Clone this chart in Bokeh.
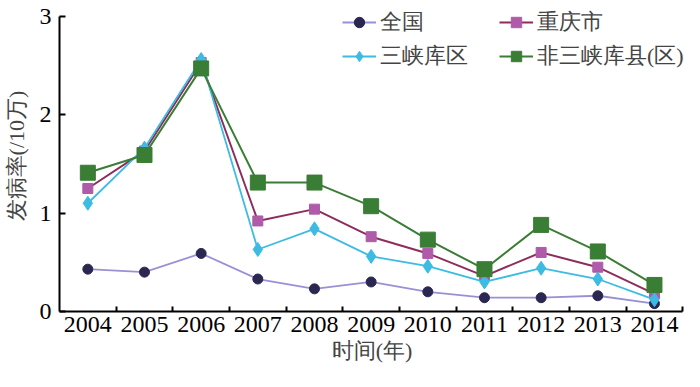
from bokeh.plotting import figure
from bokeh.models import Legend, LegendItem, FixedTicker, Range1d
from bokeh.embed import file_html
from bokeh.resources import INLINE

years = [2004, 2005, 2006, 2007, 2008, 2009, 2010, 2011, 2012, 2013, 2014]
national = [0.43, 0.40, 0.59, 0.33, 0.23, 0.30, 0.20, 0.14, 0.14, 0.16, 0.08]
chongqing = [1.25, 1.63, 2.53, 0.92, 1.04, 0.76, 0.59, 0.36, 0.60, 0.45, 0.18]
three_gorges = [1.10, 1.66, 2.56, 0.63, 0.84, 0.56, 0.46, 0.30, 0.44, 0.33, 0.12]
non_three_gorges = [1.41, 1.59, 2.47, 1.31, 1.31, 1.07, 0.73, 0.43, 0.88, 0.61, 0.27]
series_names = ["全国", "重庆市", "三峡库区", "非三峡库县(区)"]
y_ticks = [0, 1, 2, 3]

FONT = "Liberation Serif"

p = figure(width=684, height=371, output_backend="svg", toolbar_location=None,
           x_range=Range1d(2003.5, 2014.53), y_range=Range1d(0, 3.16),
           min_border_left=52, min_border_right=0, min_border_top=0, min_border_bottom=60)
p.outline_line_color = None
p.xgrid.visible = False
p.ygrid.visible = False
p.background_fill_color = "white"

# x axis
p.xaxis.bounds = (2003.5, 2014.5)
p.xaxis.ticker = FixedTicker(ticks=years, minor_ticks=[y + 0.5 for y in years])
p.xaxis.major_tick_line_color = None
p.xaxis.major_tick_in = 0
p.xaxis.major_tick_out = 0
p.xaxis.minor_tick_in = 5
p.xaxis.minor_tick_out = 0
p.xaxis.minor_tick_line_color = "black"
p.xaxis.minor_tick_line_width = 2
p.xaxis.axis_line_width = 2
p.xaxis.major_label_text_font = FONT
p.xaxis.major_label_text_font_size = "24px"
p.xaxis.major_label_text_line_height = 1.0
p.xaxis.major_label_text_color = "black"
p.xaxis.major_label_standoff = 5
p.xaxis.axis_label = "时间(年)"
p.xaxis.axis_label_text_font = FONT
p.xaxis.axis_label_text_font_size = "22px"
p.xaxis.axis_label_text_line_height = 1.0
p.xaxis.axis_label_text_font_style = "normal"
p.xaxis.axis_label_standoff = 3

# y axis
p.yaxis.bounds = (0, 3)
p.yaxis.ticker = FixedTicker(ticks=y_ticks, minor_ticks=[])
p.yaxis.major_tick_in = 6
p.yaxis.major_tick_out = 0
p.yaxis.major_tick_line_width = 2
p.yaxis.axis_line_width = 2
p.yaxis.major_label_text_font = FONT
p.yaxis.major_label_text_font_size = "24px"
p.yaxis.major_label_text_color = "black"
p.yaxis.major_label_standoff = 8
p.yaxis.axis_label = "发病率(/10万)"
p.yaxis.axis_label_text_font = FONT
p.yaxis.axis_label_text_font_size = "22px"
p.yaxis.axis_label_text_font_style = "normal"
p.yaxis.axis_label_standoff = 8

# series
l1 = p.line(years, national, line_color="#9a90d6", line_width=1.8)
m1 = p.scatter(years, national, marker="circle", size=10, fill_color="#2a2850", line_color="#2a2850")

l2 = p.line(years, chongqing, line_color="#8e2d5c", line_width=2)
m2 = p.scatter(years, chongqing, marker="square", size=10, fill_color="#b05aaa", line_color="#b05aaa")

l3 = p.line(years, three_gorges, line_color="#3cbbe3", line_width=1.8)
m3 = p.scatter(years, three_gorges, marker="diamond", size=14, fill_color="#3cbbe3", line_color="#3cbbe3")

l4 = p.line(years, non_three_gorges, line_color="#3a7d35", line_width=2)
m4 = p.scatter(years, non_three_gorges, marker="square", size=15, fill_color="#3a7d35", line_color="#3a7d35")

legend = Legend(items=[
    LegendItem(label=series_names[0], renderers=[l1, m1]),
    LegendItem(label=series_names[2], renderers=[l3, m3]),
    LegendItem(label=series_names[1], renderers=[l2, m2]),
    LegendItem(label=series_names[3], renderers=[l4, m4]),
], ncols=2, location=(283, 240))
legend.background_fill_alpha = 0
legend.border_line_color = None
legend.label_text_font = FONT
legend.label_text_font_size = "22px"
legend.glyph_width = 34
legend.glyph_height = 26
legend.label_height = 26
legend.label_width = 115
legend.label_standoff = 4
legend.spacing = 4
legend.padding = 0
legend.margin = 0
p.add_layout(legend, "center")

open("out.html", "w").write(file_html(p, INLINE))
